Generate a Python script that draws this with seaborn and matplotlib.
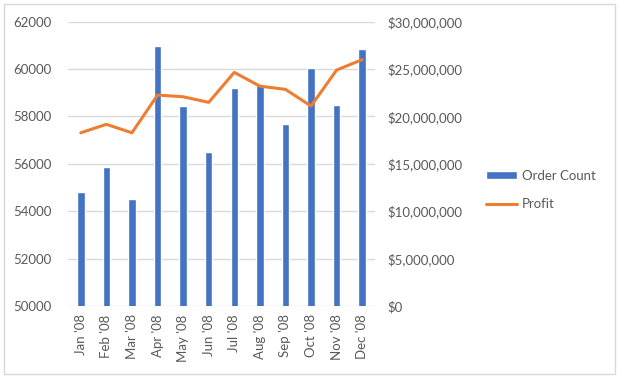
import numpy as np
import pandas as pd
import matplotlib
matplotlib.use("Agg")
import matplotlib.pyplot as plt
import seaborn as sns
from matplotlib.patches import Rectangle
from matplotlib.ticker import FuncFormatter, MultipleLocator

months = ["Jan '08", "Feb '08", "Mar '08", "Apr '08", "May '08", "Jun '08",
          "Jul '08", "Aug '08", "Sep '08", "Oct '08", "Nov '08", "Dec '08"]
order_count = [54800, 55850, 54530, 60970, 58440, 56510,
               59210, 59370, 57680, 60040, 58480, 60840]
profit = [18.28e6, 19.17e6, 18.28e6, 22.26e6, 22.08e6, 21.49e6,
          24.65e6, 23.2e6, 22.86e6, 21.1e6, 24.9e6, 26.0e6]

sns.set_theme(style="white")
plt.rcParams['font.family'] = ['Lato', 'DejaVu Sans']

TXT = "#595959"
BAR = "#4472C4"
LINE = "#ED7D31"
GRID = "#D9D9D9"

df = pd.DataFrame({"month": months, "orders": order_count, "profit": profit})
df["pos"] = np.arange(len(months))

fig = plt.figure(figsize=(6.27, 3.84), dpi=100)
fig.patch.set_facecolor("white")
ax = fig.add_axes([68/627, 1-306/384, (375-68)/627, (306-21.7)/384])

sns.barplot(data=df, x="month", y="orders", color=BAR, width=0.29,
            saturation=1, ax=ax, label="Order Count")
ax.set_ylim(50000, 62000)
ax.yaxis.set_major_locator(MultipleLocator(2000))
ax.set_xlim(-0.5, 11.5)
ax.grid(axis="y", color=GRID, lw=1)
ax.set_axisbelow(True)
for s in ax.spines.values():
    s.set_visible(False)
ax.set_xlabel("")
ax.set_ylabel("")
ax.tick_params(axis="y", length=0, pad=12, labelsize=9.5, labelcolor=TXT)
ax.tick_params(axis="x", length=0, pad=6, labelsize=9.5, labelcolor=TXT,
               labelrotation=90)

ax2 = ax.twinx()
sns.lineplot(data=df, x="pos", y="profit", color=LINE, lw=2.2, ax=ax2,
             label="Profit", legend=False)
ax2.set_ylim(0, 30e6)
ax2.yaxis.set_major_locator(MultipleLocator(5e6))
ax2.yaxis.set_major_formatter(FuncFormatter(lambda v, p: f"${v:,.0f}"))
ax2.set_xlim(-0.5, 11.5)
for s in ax2.spines.values():
    s.set_visible(False)
ax2.set_ylabel("")
ax2.set_xlabel("")
ax2.grid(False)
ax2.tick_params(axis="y", length=0, pad=9, labelsize=9.5, labelcolor=TXT)

h1, l1 = ax.get_legend_handles_labels()
h2, l2 = ax2.get_legend_handles_labels()
if ax.get_legend():
    ax.get_legend().remove()
leg = fig.legend(h1 + h2, l1 + l2, loc="center left",
                 bbox_to_anchor=(479/627, 1-190/384), frameon=False,
                 fontsize=9.5, labelcolor=TXT, borderpad=0,
                 handlelength=2.4, handleheight=0.55, handletextpad=0.35,
                 labelspacing=1.2)

fig.patches.append(Rectangle((4/627, 1-374/384), (615-4)/627, (374-4)/384,
                             transform=fig.transFigure, fill=False,
                             edgecolor="#D9D9D9", lw=1))

fig.savefig("out.png", dpi=100, facecolor="white")
